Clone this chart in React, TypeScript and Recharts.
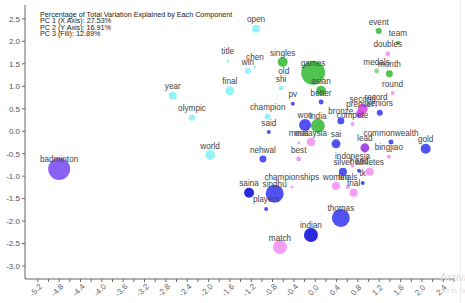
import React from "react";
import { ScatterChart, Scatter, XAxis, YAxis, ZAxis, Cell } from "recharts";

// word, PC1 (x), PC2 (y), frequency weight (bubble area), PC3 group (fill)
const words = [
  "badminton", "year", "olympic", "world", "title", "final", "win", "chen", "open",
  "singles", "old", "shi", "games", "asian", "better", "pv", "champion", "said",
  "won", "india", "mens", "malaysia", "sai", "bronze", "compete", "second", "record",
  "premier", "seniors", "round", "month", "medals", "doubles", "team", "event",
  "commonwealth", "gold", "lead", "bingjiao", "best", "nehwal", "indonesia", "head",
  "silver", "athletes", "tk", "women", "finals", "trial", "championships", "saina",
  "sindhu", "players", "thomas", "indian", "match",
];
const pc1 = [
  -4.8, -2.67, -2.31, -1.97, -1.64, -1.6, -1.26, -1.13, -1.11,
  -0.61, -0.59, -0.64, -0.04, 0.11, 0.11, -0.42, -0.89, -0.87,
  -0.19, 0.05, -0.31, -0.08, 0.39, 0.48, 0.7, 0.89, 1.14,
  0.84, 1.21, 1.45, 1.39, 1.15, 1.36, 1.55, 1.19,
  1.42, 2.07, 0.93, 1.38, -0.31, -0.98, 0.7, 0.82,
  0.52, 1.02, 0.89, 0.39, 0.61, 0.72, -0.44, -1.24,
  -0.76, -0.92, 0.48, -0.08, -0.66,
];
const pc2 = [
  -0.84, 0.79, 0.3, -0.53, 1.57, 0.9, 1.34, 1.43, 2.28,
  1.54, 1.14, 0.96, 1.3, 0.9, 0.65, 0.61, 0.32, -0.02,
  0.14, 0.12, -0.26, -0.24, -0.28, 0.23, 0.16, 0.5, 0.56,
  0.39, 0.41, 0.85, 1.28, 1.34, 1.72, 1.97, 2.23,
  -0.24, -0.39, -0.37, -0.57, -0.62, -0.62, -0.77, -0.88,
  -0.9, -0.9, -1.15, -1.22, -1.24, -1.37, -1.24, -1.37,
  -1.39, -1.73, -1.93, -2.31, -2.58,
];
const weight = [
  121, 16, 9, 25, 2, 20, 9, 2, 16,
  25, 1, 6, 144, 25, 6, 4, 9, 4,
  36, 49, 2, 16, 20, 12, 4, 25, 2,
  16, 9, 4, 12, 6, 6, 4, 9,
  6, 25, 20, 4, 6, 12, 4, 4,
  16, 16, 4, 16, 4, 16, 2, 25,
  81, 4, 81, 49, 49,
];
const group = [
  "violet", "cyan", "cyan", "cyan", "cyan", "cyan", "cyan", "cyan", "cyan",
  "green", "cyan", "cyan", "green", "green", "blue", "blue", "cyan", "blue",
  "blue", "green", "pink", "pink", "blue", "blue", "pink", "magenta", "pink",
  "magenta", "blue", "pink", "green", "lightgreen", "pink", "green", "green",
  "blue", "blue", "purple", "pink", "pink", "blue", "pink", "blue",
  "blue", "pink", "blue", "pink", "pink", "pink", "pink", "navy",
  "blue", "blue", "blue", "navy", "pink",
];

const xMajor = [-5.2, -4.8, -4.4, -4.0, -3.6, -3.2, -2.8, -2.4, -2.0, -1.6, -1.2, -0.8, -0.4, 0.0, 0.4, 0.8, 1.2, 1.6, 2.0, 2.4];
const yTicks = [-3.0, -2.5, -2.0, -1.5, -1.0, -0.5, 0.0, 0.5, 1.0, 1.5, 2.0, 2.5];
const notes = [
  "Percentage of Total Variation Explained by Each Component",
  "PC 1 (X Axis): 27.53%",
  "PC 2 (Y Axis): 16.91%",
  "PC 3 (Fill): 12.89%",
];

const palette: Record<string, string> = {
  cyan: "#86f0f6",
  green: "#38bb38",
  lightgreen: "#7fd27f",
  blue: "#3a3af0",
  navy: "#0c0cd8",
  violet: "#7a4cf0",
  purple: "#9b30e0",
  magenta: "#d548e6",
  pink: "#f290f2",
};

const data = words.map((w, i) => ({ word: w, x: pc1[i], y: pc2[i], z: weight[i], group: group[i] }));

// major ticks plus the minor ones halfway between
const xTicks: number[] = [];
xMajor.forEach((v) => {
  xTicks.push(v);
  xTicks.push(Math.round((v + 0.2) * 10) / 10);
});

const font = "'Liberation Sans', Arial, sans-serif";

const XTick = (props: any) => {
  const { x, y, payload } = props;
  const v = payload.value;
  const major = xMajor.some((m) => Math.abs(m - v) < 1e-6);
  if (!major) return null;
  return (
    <text
      x={x}
      y={y + 8}
      transform={`rotate(-45 ${x} ${y + 8})`}
      textAnchor="middle"
      fontSize={8}
      fill="#666"
      fontFamily={font}
    >
      {v.toFixed(1)}
    </text>
  );
};

const WordLabel = (props: any) => {
  const { cx, cy, payload } = props;
  return (
    <text x={cx} y={cy - 6.5} textAnchor="middle" fontSize={8.2} fill="#444" fontFamily={font}>
      {payload.word}
    </text>
  );
};

export default function App() {
  return (
    <div style={{ position: "fixed", left: 0, top: 0, width: 465, height: 303, background: "#fff" }}>
      <ScatterChart width={465} height={303} margin={{ top: 5, right: 10, left: 0, bottom: 0 }}>
        <XAxis
          type="number"
          dataKey="x"
          domain={[-5.44, 2.62]}
          ticks={xTicks}
          interval={0}
          height={24}
          tickSize={3}
          stroke="#666"
          tick={<XTick />}
        />
        <YAxis
          type="number"
          dataKey="y"
          domain={[-3.29, 2.81]}
          ticks={yTicks}
          interval={0}
          width={25}
          tickSize={3}
          stroke="#666"
          tick={{ fontSize: 8, fill: "#555", fontFamily: font }}
          tickFormatter={(v: number) => v.toFixed(1)}
        />
        <ZAxis type="number" dataKey="z" domain={[0, 144]} range={[0, 144 * Math.PI]} />
        <Scatter data={data} isAnimationActive={false} fillOpacity={0.88}>
          {data.map((d, i) => (
            <Cell key={i} fill={palette[d.group]} />
          ))}
        </Scatter>
        <Scatter data={data} isAnimationActive={false} shape={<WordLabel />} />
      </ScatterChart>
      <svg width={465} height={303} style={{ position: "absolute", left: 0, top: 0, pointerEvents: "none" }}>
        {notes.map((t, i) => (
          <text key={i} x={40} y={16.5 + i * 6.6} fontSize={7.2} fill="#222" fontFamily={font}>
            {t}
          </text>
        ))}
        <line x1={460.5} y1={0} x2={460.5} y2={303} stroke="#eee" />
        <text x={440} y={281} fontSize={11} fill="#d8d8d8" fontFamily={font}>Activate Windows</text>
        <text x={440} y={293} fontSize={7} fill="#e0e0e0" fontFamily={font}>Go to Settings</text>
      </svg>
    </div>
  );
}
